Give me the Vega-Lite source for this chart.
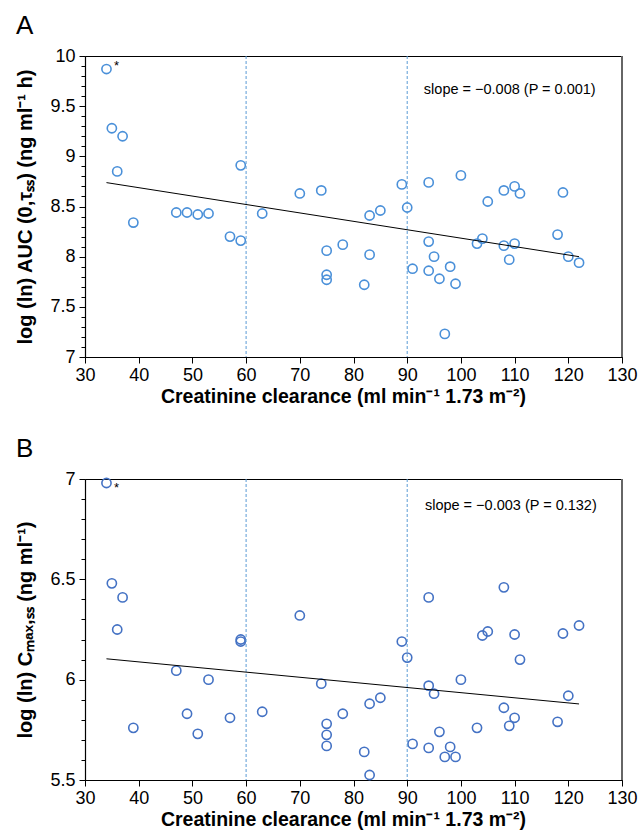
{
  "$schema": "https://vega.github.io/schema/vega-lite/v6.json",
  "padding": {"left": 15, "top": 12, "right": 10, "bottom": 10},
  "background": "white",
  "spacing": 122,
  "bounds": "flush",
  "config": {
    "font": "Liberation Sans",
    "view": {"stroke": "black", "strokeWidth": 1},
    "axis": {"domainColor": "black", "domainWidth": 1.2, "tickColor": "black", "tickWidth": 1, "labelColor": "black", "titleColor": "black", "labelFontSize": 18, "titleFontSize": 20, "titleFontWeight": "bold", "grid": false, "labelFont": "Liberation Sans", "titleFont": "Liberation Sans", "labelOverlap": false, "labelFlush": false},
    "title": {"fontSize": 26, "fontWeight": "normal", "anchor": "start", "frame": "bounds", "color": "black", "font": "Liberation Sans"}
  },
  "datasets": {
    "a": [
      {"x": 34, "y": 9.87}, {"x": 35, "y": 9.28}, {"x": 37, "y": 9.2}, {"x": 36, "y": 8.85},
      {"x": 39, "y": 8.34}, {"x": 47, "y": 8.44}, {"x": 49, "y": 8.44}, {"x": 51, "y": 8.42},
      {"x": 53, "y": 8.43}, {"x": 57, "y": 8.2}, {"x": 59, "y": 8.16}, {"x": 59, "y": 8.91},
      {"x": 63, "y": 8.43}, {"x": 70, "y": 8.63}, {"x": 74, "y": 8.66}, {"x": 75, "y": 8.06},
      {"x": 75, "y": 7.82}, {"x": 75, "y": 7.77}, {"x": 78, "y": 8.12}, {"x": 82, "y": 7.72},
      {"x": 83, "y": 8.41}, {"x": 83, "y": 8.02}, {"x": 85, "y": 8.46}, {"x": 89, "y": 8.72},
      {"x": 90, "y": 8.49}, {"x": 91, "y": 7.88}, {"x": 94, "y": 8.74}, {"x": 94, "y": 8.15},
      {"x": 94, "y": 7.86}, {"x": 95, "y": 8.0}, {"x": 96, "y": 7.78}, {"x": 97, "y": 7.23},
      {"x": 98, "y": 7.9}, {"x": 99, "y": 7.73}, {"x": 100, "y": 8.81}, {"x": 103, "y": 8.13},
      {"x": 104, "y": 8.18}, {"x": 105, "y": 8.55}, {"x": 108, "y": 8.66}, {"x": 108, "y": 8.11},
      {"x": 109, "y": 7.97}, {"x": 110, "y": 8.7}, {"x": 110, "y": 8.13}, {"x": 111, "y": 8.63},
      {"x": 118, "y": 8.22}, {"x": 119, "y": 8.64}, {"x": 120, "y": 8.0}, {"x": 122, "y": 7.94}
    ],
    "b": [
      {"x": 34, "y": 6.98}, {"x": 35, "y": 6.48}, {"x": 37, "y": 6.41}, {"x": 36, "y": 6.25},
      {"x": 39, "y": 5.76}, {"x": 47, "y": 6.045}, {"x": 49, "y": 5.83}, {"x": 51, "y": 5.73},
      {"x": 53, "y": 6.0}, {"x": 57, "y": 5.81}, {"x": 59, "y": 6.2}, {"x": 59, "y": 6.19},
      {"x": 63, "y": 5.84}, {"x": 70, "y": 6.32}, {"x": 74, "y": 5.98}, {"x": 75, "y": 5.78},
      {"x": 75, "y": 5.725}, {"x": 75, "y": 5.67}, {"x": 78, "y": 5.83}, {"x": 82, "y": 5.64},
      {"x": 83, "y": 5.88}, {"x": 83, "y": 5.525}, {"x": 85, "y": 5.91}, {"x": 89, "y": 6.19},
      {"x": 90, "y": 6.11}, {"x": 91, "y": 5.68}, {"x": 94, "y": 5.97}, {"x": 94, "y": 5.66},
      {"x": 94, "y": 6.41}, {"x": 95, "y": 5.93}, {"x": 96, "y": 5.74}, {"x": 97, "y": 5.615},
      {"x": 98, "y": 5.665}, {"x": 99, "y": 5.615}, {"x": 100, "y": 6.0}, {"x": 103, "y": 5.76},
      {"x": 104, "y": 6.22}, {"x": 105, "y": 6.24}, {"x": 108, "y": 6.46}, {"x": 108, "y": 5.86},
      {"x": 109, "y": 5.77}, {"x": 110, "y": 5.81}, {"x": 110, "y": 6.225}, {"x": 111, "y": 6.1},
      {"x": 118, "y": 5.79}, {"x": 119, "y": 6.23}, {"x": 120, "y": 5.92}, {"x": 122, "y": 6.27}
    ],
    "aline": [{"x": 34, "y": 8.738}, {"x": 122, "y": 8.0}],
    "bline": [{"x": 34, "y": 6.104}, {"x": 122, "y": 5.879}],
    "cut": [{"x": 60}, {"x": 90}]
  },
  "vconcat": [
    {
      "title": {"text": "A", "offset": 8},
      "width": 537,
      "height": 301,
      "resolve": {"axis": {"y": "independent"}},
      "layer": [
        {
          "data": {"name": "a"},
          "mark": {"type": "point", "shape": "circle", "filled": false, "size": 85, "strokeWidth": 1.6, "color": "#4a90d9", "opacity": 1},
          "encoding": {
            "x": {"field": "x", "type": "quantitative", "scale": {"domain": [30, 130], "nice": false, "zero": false}, "axis": {
              "title": "Creatinine clearance (ml min⁻¹ 1.73 m⁻²)",
              "titleFontSize": 19.5,
              "titleX": 258,
              "values": [30, 35, 40, 45, 50, 55, 60, 65, 70, 75, 80, 85, 90, 95, 100, 105, 110, 115, 120, 125, 130],
              "format": "d",
              "labelOverlap": false,
              "labelExpr": "datum.value % 10 === 0 ? datum.label : ''",
              "tickSize": {"condition": {"test": "datum.value % 10 === 0", "value": 6}, "value": 4},
              "labelPadding": 3, "titlePadding": 3
            }},
            "y": {"field": "y", "type": "quantitative", "scale": {"domain": [7, 10], "nice": false, "zero": false}, "axis": {
              "orient": "left",
              "title": "log (ln) AUC (0,τₛₛ) (ng ml⁻¹ h)",
              "values": [7, 7.5, 8, 8.5, 9, 9.5, 10],
              "format": "~g",
              "labelOverlap": false,
              "tickSize": 6,
              "labelPadding": 4, "titlePadding": 14
            }}
          }
        },
        {
          "data": {"name": "cut"},
          "mark": {"type": "rule", "color": "#5b9bd5", "strokeDash": [3, 2], "strokeWidth": 1},
          "encoding": {"x": {"field": "x", "type": "quantitative"}}
        },
        {
          "data": {"name": "aline"},
          "mark": {"type": "line", "color": "black", "strokeWidth": 1},
          "encoding": {
            "x": {"field": "x", "type": "quantitative"},
            "y": {"field": "y", "type": "quantitative", "axis": {
              "orient": "left",
              "title": null,
              "labels": false,
              "domain": false,
              "values": [7.1, 7.2, 7.3, 7.4, 7.6, 7.7, 7.8, 7.9, 8.1, 8.2, 8.3, 8.4, 8.6, 8.7, 8.8, 8.9, 9.1, 9.2, 9.3, 9.4, 9.6, 9.7, 9.8, 9.9],
              "tickSize": 4
            }}
          }
        },
        {
          "data": {"values": [{}]},
          "mark": {"type": "text", "text": "*", "dx": 10, "dy": -3, "fontSize": 13, "color": "black"},
          "encoding": {"x": {"datum": 34}, "y": {"datum": 9.87, "axis": null}}
        },
        {
          "data": {"values": [{}]},
          "mark": {"type": "text", "text": "slope = −0.008 (P = 0.001)", "fontSize": 14.5, "color": "black"},
          "encoding": {"x": {"datum": 109.1}, "y": {"datum": 9.66, "axis": null}}
        },
        {
          "data": {"values": [{}]},
          "mark": {"type": "rule", "color": "#666666", "strokeWidth": 2},
          "encoding": {"x": {"datum": 130}}
        }
      ]
    },
    {
      "title": {"text": "B", "offset": 8},
      "width": 537,
      "height": 301,
      "resolve": {"axis": {"y": "independent"}},
      "layer": [
        {
          "data": {"name": "b"},
          "mark": {"type": "point", "shape": "circle", "filled": false, "size": 85, "strokeWidth": 1.6, "color": "#4472c4", "opacity": 1},
          "encoding": {
            "x": {"field": "x", "type": "quantitative", "scale": {"domain": [30, 130], "nice": false, "zero": false}, "axis": {
              "title": "Creatinine clearance (ml min⁻¹ 1.73 m⁻²)",
              "titleFontSize": 19.5,
              "titleX": 258,
              "values": [30, 35, 40, 45, 50, 55, 60, 65, 70, 75, 80, 85, 90, 95, 100, 105, 110, 115, 120, 125, 130],
              "format": "d",
              "labelOverlap": false,
              "labelExpr": "datum.value % 10 === 0 ? datum.label : ''",
              "tickSize": {"condition": {"test": "datum.value % 10 === 0", "value": 6}, "value": 4},
              "labelPadding": 3, "titlePadding": 3
            }},
            "y": {"field": "y", "type": "quantitative", "scale": {"domain": [5.5, 7], "nice": false, "zero": false}, "axis": {
              "orient": "left",
              "title": "log (ln) Cₘₐₓ,ₛₛ (ng ml⁻¹)",
              "values": [5.5, 6, 6.5, 7],
              "format": "~g",
              "labelOverlap": false,
              "tickSize": 6,
              "labelPadding": 4, "titlePadding": 14
            }}
          }
        },
        {
          "data": {"name": "cut"},
          "mark": {"type": "rule", "color": "#5b9bd5", "strokeDash": [3, 2], "strokeWidth": 1},
          "encoding": {"x": {"field": "x", "type": "quantitative"}}
        },
        {
          "data": {"name": "bline"},
          "mark": {"type": "line", "color": "black", "strokeWidth": 1},
          "encoding": {
            "x": {"field": "x", "type": "quantitative"},
            "y": {"field": "y", "type": "quantitative", "axis": {
              "orient": "left",
              "title": null,
              "labels": false,
              "domain": false,
              "values": [5.6, 5.7, 5.8, 5.9, 6.1, 6.2, 6.3, 6.4, 6.6, 6.7, 6.8, 6.9],
              "tickSize": 4
            }}
          }
        },
        {
          "data": {"values": [{}]},
          "mark": {"type": "text", "text": "*", "dx": 10, "dy": 5, "fontSize": 13, "color": "black"},
          "encoding": {"x": {"datum": 34}, "y": {"datum": 6.98, "axis": null}}
        },
        {
          "data": {"values": [{}]},
          "mark": {"type": "text", "text": "slope = −0.003 (P = 0.132)", "fontSize": 14.5, "color": "black"},
          "encoding": {"x": {"datum": 109.3}, "y": {"datum": 6.866, "axis": null}}
        },
        {
          "data": {"values": [{}]},
          "mark": {"type": "rule", "color": "#666666", "strokeWidth": 2},
          "encoding": {"x": {"datum": 130}}
        }
      ]
    }
  ]
}
